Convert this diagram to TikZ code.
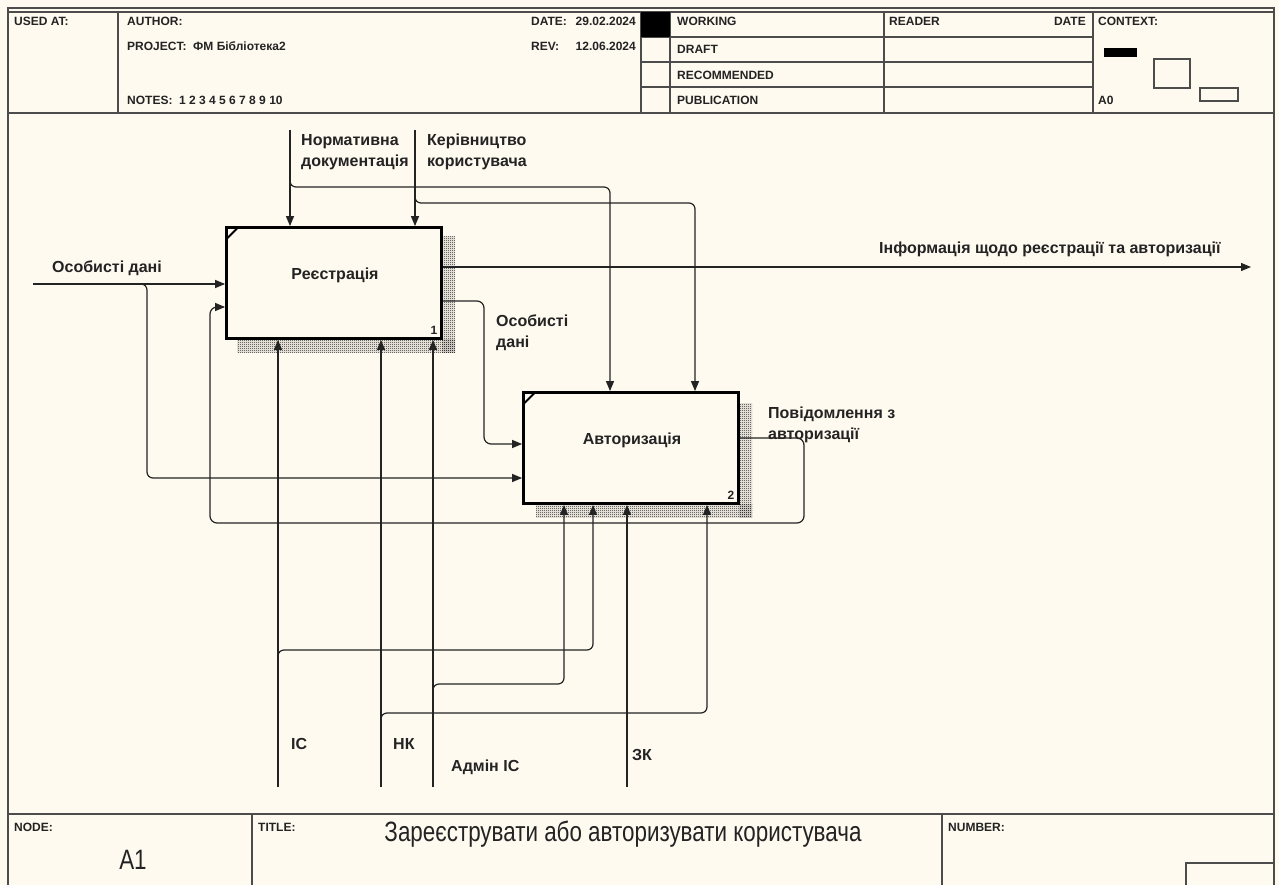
\documentclass[tikz,border=0pt]{standalone}
\usepackage{fontspec}
\setmainfont{Liberation Sans}
\newfontfamily\narrowfont{Liberation Sans}[FakeStretch=0.8]
\usetikzlibrary{arrows.meta,patterns}
\definecolor{paper}{RGB}{255,250,240}
\definecolor{ink}{RGB}{35,35,35}

% fine checker used for the box shadows
\pgfdeclarepatternformonly{finechecks}{\pgfpointorigin}{\pgfpoint{2pt}{2pt}}{\pgfpoint{2pt}{2pt}}{%
  \pgfpathrectangle{\pgfpointorigin}{\pgfpoint{1pt}{1pt}}%
  \pgfpathrectangle{\pgfpoint{1pt}{1pt}}{\pgfpoint{1pt}{1pt}}%
  \pgfusepath{fill}%
}

\begin{document}
\begin{tikzpicture}[x=1pt,y=-1pt,
  frame/.style={line width=1.4pt,draw=black!70},
  hdr/.style={font=\fontsize{12}{14}\selectfont\bfseries,inner sep=0pt,anchor=west,text=ink},
  func/.style={draw=black,line width=2.8pt,fill=paper,minimum width=215pt,minimum height=111pt,inner sep=0pt},
  fname/.style={font=\fontsize{16}{18}\selectfont\bfseries,text=ink,inner sep=0pt},
  fnum/.style={font=\fontsize{12}{14}\selectfont\bfseries,text=ink,inner sep=0pt},
  lbl/.style={font=\fontsize{16}{21}\selectfont\bfseries,text=ink,inner sep=0pt,anchor=west,align=left},
  arr/.style={line width=1.2pt,draw=ink,-{Triangle[length=10pt,width=8pt]}},
  shade/.style={pattern=finechecks,pattern color=black!90},
  corner/.style={line width=2pt,draw=black}
]
% page and background
\useasboundingbox (0,0) rectangle (1279,885);
\fill[paper] (0,0) rectangle (1279,885);
\draw[frame] (8,885) -- (8,8) -- (1274,8) -- (1274,885);

% ---------- header block ----------
\draw[frame] (8,12) rectangle (1274,113);
\foreach \xx in {118,641,670,884,1093} \draw[frame] (\xx,12) -- (\xx,113);
\foreach \yy in {37,62,87} \draw[frame] (641,\yy) -- (1093,\yy);
\fill[black] (641,12) rectangle (670,37);
\node[hdr] (usedat) at (14,21) {USED AT:};
\node[hdr] (author) at (127,21) {AUTHOR:};
\node[hdr] (project) at (127,46) {PROJECT:\ \ ФМ Бібліотека2};
\node[hdr] (notes) at (127,100) {NOTES:\ \ 1\ 2\ 3\ 4\ 5\ 6\ 7\ 8\ 9\ 10};
\node[hdr] (datek) at (531,21) {DATE:};
\node[hdr,anchor=east] (datev) at (636,21) {29.02.2024};
\node[hdr] (revk) at (531,46) {REV:};
\node[hdr,anchor=east] (revv) at (636,46) {12.06.2024};
\node[hdr] (working) at (677,21) {WORKING};
\node[hdr] (draft) at (677,49) {DRAFT};
\node[hdr] (recom) at (677,75) {RECOMMENDED};
\node[hdr] (publ) at (677,100) {PUBLICATION};
\node[hdr] (reader) at (889,21) {READER};
\node[hdr,anchor=east] (rdate) at (1086,21) {DATE};
\node[hdr] (context) at (1098,21) {CONTEXT:};
\node[hdr] (azero) at (1098,100) {A0};
% context thumbnail
\fill[black] (1104,48) rectangle (1137,57);
\draw[frame] (1154,59) rectangle (1190,88);
\draw[frame] (1200,88) rectangle (1238,101);

% ---------- footer block ----------
\draw[frame] (8,814) -- (1274,814);
\draw[frame] (252,814) -- (252,885);
\draw[frame] (942,814) -- (942,885);
\draw[frame] (1186,885) -- (1186,863) -- (1274,863);
\node[hdr] (nodek) at (14,827) {NODE:};
\node[hdr] (titlek) at (258,827) {TITLE:};
\node[hdr] (numberk) at (948,827) {NUMBER:};
\node[font=\narrowfont\fontsize{28}{30}\selectfont,text=ink,inner sep=0pt] (nodev) at (133,860) {A1};
\node[font=\narrowfont\fontsize{28}{30}\selectfont,text=ink,inner sep=0pt] (titlev) at (623,834) {Зареєструвати або авторизувати користувача};

% ---------- activity boxes ----------
\fill[shade] (442,237) rectangle (455,352);
\fill[shade] (237,339) rectangle (455,352);
\fill[shade] (739,403) rectangle (752,517);
\fill[shade] (536,504) rectangle (752,517);

\node[func] (b1) at (334,283) {};
\node[func] (b2) at (631,448) {};
\draw[corner] (226.5,239) -- (238,227.5);
\draw[corner] (523.5,404) -- (535,392.5);
\node[fname] (b1name) at (335,275) {Реєстрація};
\node[fname] (b2name) at (632,440) {Авторизація};
\node[fnum] (b1num) at (434,330) {1};
\node[fnum] (b2num) at (731,495) {2};

% ---------- arrow end points and bends ----------
\coordinate (ndT) at (290,130);
\coordinate (ndJ) at (290,181);
\coordinate (ndC) at (610,187);
\coordinate (krT) at (415,130);
\coordinate (krJ) at (415,197);
\coordinate (krC) at (695,203);
\coordinate (odL) at (33,284);
\coordinate (odJ) at (141,284);
\coordinate (odC) at (147,478);
\coordinate (infR) at (1251,267);
\coordinate (odA) at (484,301);
\coordinate (odB) at (484,444);
\coordinate (fbA) at (804,438);
\coordinate (fbB) at (804,523);
\coordinate (fbC) at (210,523);
\coordinate (fbD) at (210,307);
\coordinate (icB) at (278,787);
\coordinate (icJ) at (278,656);
\coordinate (icC) at (593,650);
\coordinate (hkB) at (381,787);
\coordinate (hkJ) at (381,719);
\coordinate (hkC) at (707,713);
\coordinate (adB) at (433,787);
\coordinate (adJ) at (433,690);
\coordinate (adC) at (564,684);
\coordinate (zkB) at (627,787);

% ---------- controls ----------
\draw[arr] (ndT) -- (b1.north -| ndT);
\draw[arr,rounded corners=6] (ndJ) |- (ndC) -- (b2.north -| ndC);
\draw[arr] (krT) -- (b1.north -| krT);
\draw[arr,rounded corners=6] (krJ) |- (krC) -- (b2.north -| krC);

% ---------- inputs ----------
\draw[arr] (odL) -- (b1.west |- odL);
\draw[arr,rounded corners=6] (odJ) -| (odC) -- (b2.west |- odC);

% ---------- outputs and feedback ----------
\draw[arr] (b1.east |- infR) -- (infR);
\draw[arr,rounded corners=7] (b1.east |- odA) -- (odA) -- (odB) -- (b2.west |- odB);
\draw[arr,rounded corners=7] (b2.east |- fbA) -- (fbA) -- (fbB) -- (fbC) -- (fbD) -- (b1.west |- fbD);

% ---------- mechanisms ----------
\draw[arr] (icB) -- (b1.south -| icB);
\draw[arr,rounded corners=6] (icJ) |- (icC) -- (b2.south -| icC);
\draw[arr] (hkB) -- (b1.south -| hkB);
\draw[arr,rounded corners=6] (hkJ) |- (hkC) -- (b2.south -| hkC);
\draw[arr] (adB) -- (b1.south -| adB);
\draw[arr,rounded corners=6] (adJ) |- (adC) -- (b2.south -| adC);
\draw[arr] (zkB) -- (b2.south -| zkB);

% ---------- arrow labels ----------
\node[lbl] (ndL) at (301,152) {Нормативна\\документація};
\node[lbl] (krL) at (427,152) {Керівництво\\користувача};
\node[lbl] (odLbl) at (52,268) {Особисті дані};
\node[lbl] (infL) at (879,249) {Інформація щодо реєстрації та авторизації};
\node[lbl] (od2L) at (496,333) {Особисті\\дані};
\node[lbl] (fbL) at (768,425) {Повідомлення з\\авторизації};
\node[lbl] (icL) at (291,744) {ІС};
\node[lbl] (hkL) at (393,744) {НК};
\node[lbl] (adL) at (451,767) {Адмін ІС};
\node[lbl] (zkL) at (632,755) {ЗК};
\end{tikzpicture}
\end{document}
